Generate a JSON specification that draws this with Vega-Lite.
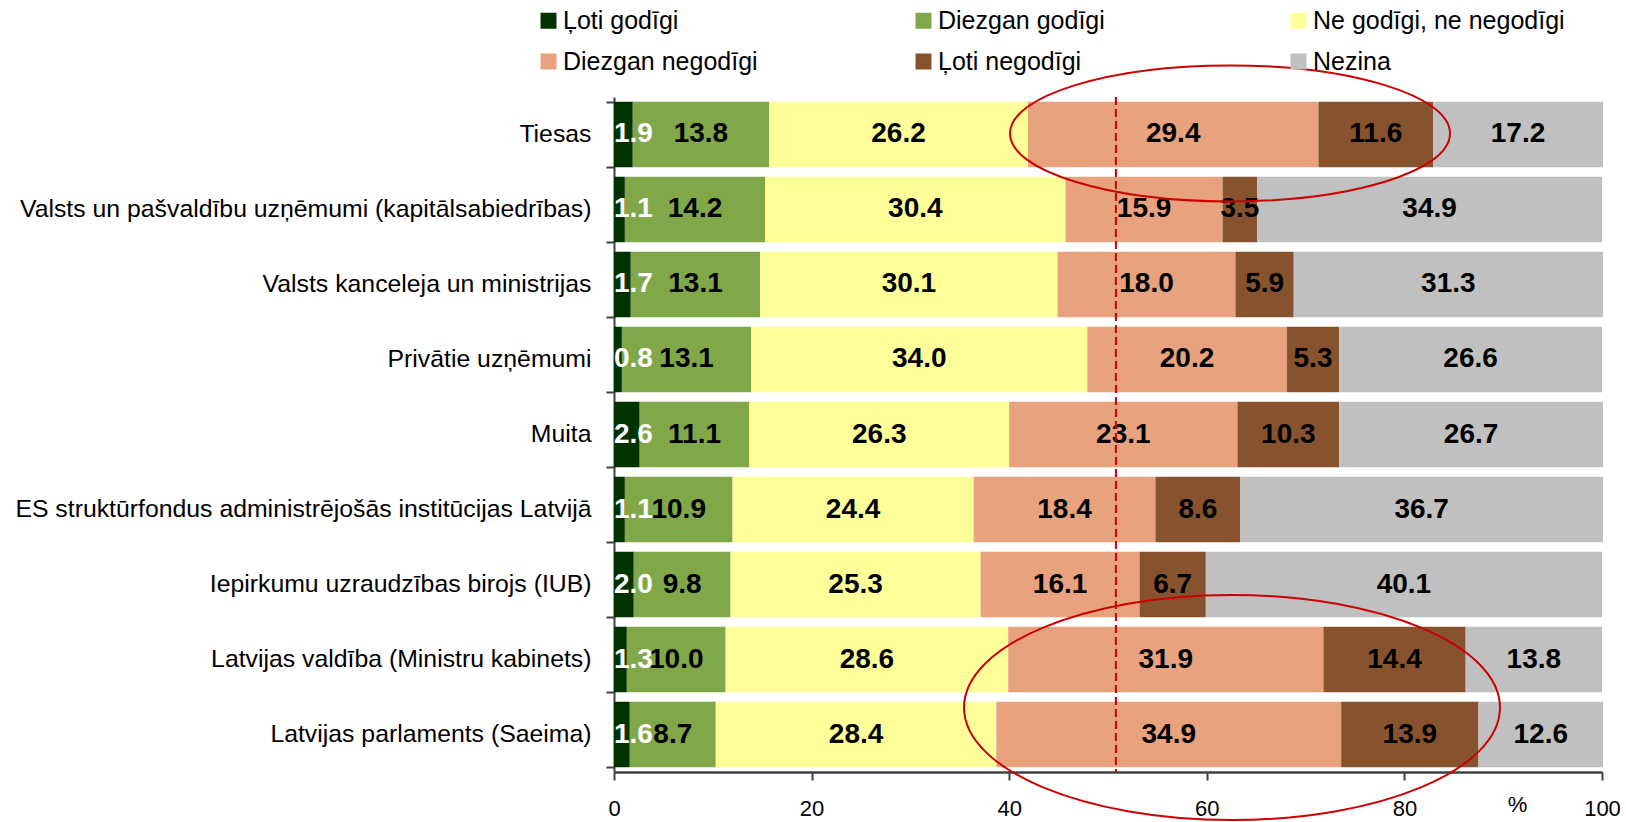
{
  "$schema": "https://vega.github.io/schema/vega-lite/v6.json",
  "width": 988,
  "height": 675,
  "autosize": {"type": "none"},
  "padding": {"left": 614, "top": 97, "right": 24, "bottom": 50},
  "background": "white",
  "config": {
    "view": {"stroke": null},
    "font": "Liberation Sans",
    "axisX": {"domainColor": "#404040", "domainWidth": 2.5, "tickColor": "#404040", "tickWidth": 2, "tickSize": 8, "labelFontSize": 22, "labelColor": "#000000", "labelPadding": 18, "labelFlush": false, "labelOverlap": false, "grid": false, "tickCount": 5, "titleFontSize": 22, "titleFontWeight": "normal", "titleX": 903, "titleY": 32, "titleBaseline": "middle", "titleAlign": "center", "titleColor": "#000000"},
    "axisY": {"domainColor": "#404040", "domainWidth": 2, "tickColor": "#404040", "tickWidth": 2, "tickSize": 8, "tickBand": "extent", "labelFontSize": 24.8, "labelColor": "#000000", "labelPadding": 15, "labelLimit": 700, "grid": false}
  },
  "layer": [
    {
      "data": {"values": [
        {"inst": "Tiesas", "cat": "Ļoti godīgi", "v": 1.9},
        {"inst": "Tiesas", "cat": "Diezgan godīgi", "v": 13.8},
        {"inst": "Tiesas", "cat": "Ne godīgi, ne negodīgi", "v": 26.2},
        {"inst": "Tiesas", "cat": "Diezgan negodīgi", "v": 29.4},
        {"inst": "Tiesas", "cat": "Ļoti negodīgi", "v": 11.6},
        {"inst": "Tiesas", "cat": "Nezina", "v": 17.2},
        {"inst": "Valsts un pašvaldību uzņēmumi (kapitālsabiedrības)", "cat": "Ļoti godīgi", "v": 1.1},
        {"inst": "Valsts un pašvaldību uzņēmumi (kapitālsabiedrības)", "cat": "Diezgan godīgi", "v": 14.2},
        {"inst": "Valsts un pašvaldību uzņēmumi (kapitālsabiedrības)", "cat": "Ne godīgi, ne negodīgi", "v": 30.4},
        {"inst": "Valsts un pašvaldību uzņēmumi (kapitālsabiedrības)", "cat": "Diezgan negodīgi", "v": 15.9},
        {"inst": "Valsts un pašvaldību uzņēmumi (kapitālsabiedrības)", "cat": "Ļoti negodīgi", "v": 3.5},
        {"inst": "Valsts un pašvaldību uzņēmumi (kapitālsabiedrības)", "cat": "Nezina", "v": 34.9},
        {"inst": "Valsts kanceleja un ministrijas", "cat": "Ļoti godīgi", "v": 1.7},
        {"inst": "Valsts kanceleja un ministrijas", "cat": "Diezgan godīgi", "v": 13.1},
        {"inst": "Valsts kanceleja un ministrijas", "cat": "Ne godīgi, ne negodīgi", "v": 30.1},
        {"inst": "Valsts kanceleja un ministrijas", "cat": "Diezgan negodīgi", "v": 18.0},
        {"inst": "Valsts kanceleja un ministrijas", "cat": "Ļoti negodīgi", "v": 5.9},
        {"inst": "Valsts kanceleja un ministrijas", "cat": "Nezina", "v": 31.3},
        {"inst": "Privātie uzņēmumi", "cat": "Ļoti godīgi", "v": 0.8},
        {"inst": "Privātie uzņēmumi", "cat": "Diezgan godīgi", "v": 13.1},
        {"inst": "Privātie uzņēmumi", "cat": "Ne godīgi, ne negodīgi", "v": 34.0},
        {"inst": "Privātie uzņēmumi", "cat": "Diezgan negodīgi", "v": 20.2},
        {"inst": "Privātie uzņēmumi", "cat": "Ļoti negodīgi", "v": 5.3},
        {"inst": "Privātie uzņēmumi", "cat": "Nezina", "v": 26.6},
        {"inst": "Muita", "cat": "Ļoti godīgi", "v": 2.6},
        {"inst": "Muita", "cat": "Diezgan godīgi", "v": 11.1},
        {"inst": "Muita", "cat": "Ne godīgi, ne negodīgi", "v": 26.3},
        {"inst": "Muita", "cat": "Diezgan negodīgi", "v": 23.1},
        {"inst": "Muita", "cat": "Ļoti negodīgi", "v": 10.3},
        {"inst": "Muita", "cat": "Nezina", "v": 26.7},
        {"inst": "ES struktūrfondus administrējošās institūcijas Latvijā", "cat": "Ļoti godīgi", "v": 1.1},
        {"inst": "ES struktūrfondus administrējošās institūcijas Latvijā", "cat": "Diezgan godīgi", "v": 10.9},
        {"inst": "ES struktūrfondus administrējošās institūcijas Latvijā", "cat": "Ne godīgi, ne negodīgi", "v": 24.4},
        {"inst": "ES struktūrfondus administrējošās institūcijas Latvijā", "cat": "Diezgan negodīgi", "v": 18.4},
        {"inst": "ES struktūrfondus administrējošās institūcijas Latvijā", "cat": "Ļoti negodīgi", "v": 8.6},
        {"inst": "ES struktūrfondus administrējošās institūcijas Latvijā", "cat": "Nezina", "v": 36.7},
        {"inst": "Iepirkumu uzraudzības birojs (IUB)", "cat": "Ļoti godīgi", "v": 2.0},
        {"inst": "Iepirkumu uzraudzības birojs (IUB)", "cat": "Diezgan godīgi", "v": 9.8},
        {"inst": "Iepirkumu uzraudzības birojs (IUB)", "cat": "Ne godīgi, ne negodīgi", "v": 25.3},
        {"inst": "Iepirkumu uzraudzības birojs (IUB)", "cat": "Diezgan negodīgi", "v": 16.1},
        {"inst": "Iepirkumu uzraudzības birojs (IUB)", "cat": "Ļoti negodīgi", "v": 6.7},
        {"inst": "Iepirkumu uzraudzības birojs (IUB)", "cat": "Nezina", "v": 40.1},
        {"inst": "Latvijas valdība (Ministru kabinets)", "cat": "Ļoti godīgi", "v": 1.3},
        {"inst": "Latvijas valdība (Ministru kabinets)", "cat": "Diezgan godīgi", "v": 10.0},
        {"inst": "Latvijas valdība (Ministru kabinets)", "cat": "Ne godīgi, ne negodīgi", "v": 28.6},
        {"inst": "Latvijas valdība (Ministru kabinets)", "cat": "Diezgan negodīgi", "v": 31.9},
        {"inst": "Latvijas valdība (Ministru kabinets)", "cat": "Ļoti negodīgi", "v": 14.4},
        {"inst": "Latvijas valdība (Ministru kabinets)", "cat": "Nezina", "v": 13.8},
        {"inst": "Latvijas parlaments (Saeima)", "cat": "Ļoti godīgi", "v": 1.6},
        {"inst": "Latvijas parlaments (Saeima)", "cat": "Diezgan godīgi", "v": 8.7},
        {"inst": "Latvijas parlaments (Saeima)", "cat": "Ne godīgi, ne negodīgi", "v": 28.4},
        {"inst": "Latvijas parlaments (Saeima)", "cat": "Diezgan negodīgi", "v": 34.9},
        {"inst": "Latvijas parlaments (Saeima)", "cat": "Ļoti negodīgi", "v": 13.9},
        {"inst": "Latvijas parlaments (Saeima)", "cat": "Nezina", "v": 12.6}
      ]},
      "transform": [
        {"stack": "v", "groupby": ["inst"], "as": ["x0", "x1"], "offset": "zero"},
        {"calculate": "(datum.x0 + datum.x1) / 2", "as": "mid"}
      ],
      "layer": [
        {
          "mark": {"type": "bar"},
          "encoding": {
            "x": {"field": "x0", "type": "quantitative", "title": "%", "scale": {"domain": [0, 100], "nice": false, "zero": true}},
            "x2": {"field": "x1"},
            "y": {"field": "inst", "type": "nominal", "title": null, "sort": null, "scale": {"domain": ["Tiesas", "Valsts un pašvaldību uzņēmumi (kapitālsabiedrības)", "Valsts kanceleja un ministrijas", "Privātie uzņēmumi", "Muita", "ES struktūrfondus administrējošās institūcijas Latvijā", "Iepirkumu uzraudzības birojs (IUB)", "Latvijas valdība (Ministru kabinets)", "Latvijas parlaments (Saeima)"], "paddingInner": 0.127, "paddingOuter": 0.063}},
            "color": {
              "field": "cat", "type": "nominal",
              "scale": {"domain": ["Ļoti godīgi", "Diezgan godīgi", "Ne godīgi, ne negodīgi", "Diezgan negodīgi", "Ļoti negodīgi", "Nezina"], "range": ["#003300", "#80A848", "#FFFF99", "#E8A27E", "#87532E", "#C0C0C0"]},
              "legend": {"orient": "none", "legendX": -78, "legendY": -89, "columns": 3, "direction": "horizontal", "gridAlign": "all", "columnPadding": 96, "rowPadding": 15, "symbolType": "square", "symbolSize": 256, "symbolStrokeWidth": 0, "symbolOpacity": 1, "labelFontSize": 25, "labelColor": "#000000", "labelOffset": 2, "labelLimit": 400, "title": null, "padding": 0}
            }
          }
        },
        {
          "transform": [{"filter": "datum.cat !== 'Ļoti godīgi'"}],
          "mark": {"type": "text", "fontWeight": "bold", "fontSize": 28, "color": "#000000", "baseline": "middle", "align": "center"},
          "encoding": {
            "x": {"field": "mid", "type": "quantitative", "title": "%"},
            "y": {"field": "inst", "type": "nominal", "title": null, "sort": null},
            "text": {"field": "v", "type": "quantitative", "format": ".1f"}
          }
        },
        {
          "transform": [{"filter": "datum.cat === 'Ļoti godīgi'"}],
          "mark": {"type": "text", "fontWeight": "bold", "fontSize": 28, "color": "#FFFFFF", "baseline": "middle", "align": "left", "dx": 0},
          "encoding": {
            "x": {"field": "x0", "type": "quantitative", "title": "%"},
            "y": {"field": "inst", "type": "nominal", "title": null, "sort": null},
            "text": {"field": "v", "type": "quantitative", "format": ".1f"}
          }
        }
      ]
    },
    {
      "data": {"values": [{"x": 50.8}]},
      "mark": {"type": "rule", "color": "#CC0000", "strokeWidth": 2, "strokeDash": [8, 4]},
      "encoding": {"x": {"field": "x", "type": "quantitative", "title": "%"}}
    },
    {
      "data": {"values": [{"inst": "Tiesas", "x": 62.35}]},
      "mark": {"type": "point", "shape": "M -1 0 C -1 -0.1707 -0.5523 -0.309 0 -0.309 C 0.5523 -0.309 1 -0.1707 1 0 C 1 0.1707 0.5523 0.309 0 0.309 C -0.5523 0.309 -1 0.1707 -1 0 Z", "size": 193600, "filled": false, "stroke": "#CC0000", "strokeWidth": 2, "opacity": 1, "yOffset": -1},
      "encoding": {
        "x": {"field": "x", "type": "quantitative", "title": "%"},
        "y": {"field": "inst", "type": "nominal", "title": null, "sort": null}
      }
    },
    {
      "data": {"values": [{"inst": "Latvijas parlaments (Saeima)", "x": 62.55}]},
      "mark": {"type": "point", "shape": "M -1 0 C -1 -0.232 -0.5523 -0.42 0 -0.42 C 0.5523 -0.42 1 -0.232 1 0 C 1 0.232 0.5523 0.42 0 0.42 C -0.5523 0.42 -1 0.232 -1 0 Z", "size": 287296, "filled": false, "stroke": "#CC0000", "strokeWidth": 2, "opacity": 1, "yOffset": -27},
      "encoding": {
        "x": {"field": "x", "type": "quantitative", "title": "%"},
        "y": {"field": "inst", "type": "nominal", "title": null, "sort": null}
      }
    }
  ]
}
